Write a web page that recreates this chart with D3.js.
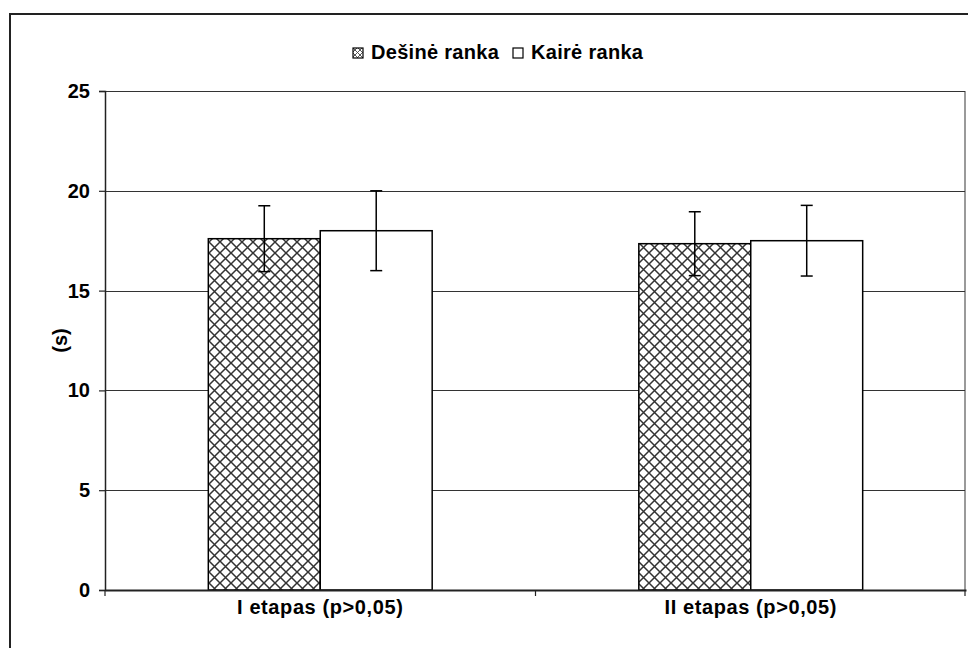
<!DOCTYPE html>
<html>
<head>
<meta charset="utf-8">
<script src="https://cdn.jsdelivr.net/npm/d3@7"></script>
<style>
  body { margin: 0; background: #fff; }
  svg { display: block; font-family: "Liberation Sans", Arial, sans-serif; }
  text { font-weight: bold; fill: #000; }
</style>
</head>
<body>
<svg id="chart" width="968" height="648"></svg>
<script>
const categories = ["I etapas (p>0,05)", "II etapas (p>0,05)"];
const series = ["Dešinė ranka", "Kairė ranka"];
const dextraValues = [17.6, 17.35];
const dextraErrors = [1.65, 1.6];
const sinistraValues = [18.0, 17.5];
const sinistraErrors = [2.0, 1.77];
const yTicks = [0, 5, 10, 15, 20, 25];
const yLabel = "(s)";

(function () {
const svg = d3.select("#chart");
const defs = svg.append("defs");
const P = 11;
const pat = defs.append("pattern")
  .attr("id", "hatch").attr("patternUnits", "userSpaceOnUse")
  .attr("width", P).attr("height", P);
pat.append("rect").attr("width", P).attr("height", P).attr("fill", "#fff");
pat.append("path").attr("d", `M0,0L${P},${P}M${P},0L0,${P}M-1,${P-1}L1,${P+1}M${P-1},-1L${P+1},1`)
  .attr("stroke", "#333").attr("stroke-width", 1.5).attr("fill", "none");

const lsmall = defs.append("pattern")
  .attr("id", "hatchSmall").attr("patternUnits", "userSpaceOnUse")
  .attr("width", 5).attr("height", 5);
lsmall.append("rect").attr("width", 5).attr("height", 5).attr("fill", "#fff");
lsmall.append("path").attr("d", "M0,0L5,5M5,0L0,5")
  .attr("stroke", "#444").attr("stroke-width", 0.9);

// outer frame
svg.append("rect").attr("x", 10).attr("y", 14).attr("width", 1000).attr("height", 700)
  .attr("fill", "none").attr("stroke", "#222").attr("stroke-width", 2);

const pLeft = 105, pRight = 966, pTop = 91, pBottom = 590;
const y = d3.scaleLinear().domain([0, 25]).range([pBottom, pTop]);
const x0 = d3.scaleBand().domain(categories).range([pLeft, pRight]).padding(0);
const bw = x0.bandwidth();
const gw = bw * 0.52;
const x1 = d3.scaleBand().domain(series).range([(bw - gw) / 2, (bw + gw) / 2]).padding(0);

// plot area right border
svg.append("line").attr("x1", pRight - 1).attr("x2", pRight - 1).attr("y1", pTop).attr("y2", pBottom)
  .attr("stroke", "#9a9a9a").attr("stroke-width", 2);

// gridlines
svg.append("g").selectAll("line").data(yTicks.filter(t => t > 0)).join("line")
  .attr("x1", pLeft).attr("x2", pRight - 1)
  .attr("y1", d => Math.round(y(d)) + 0.5).attr("y2", d => Math.round(y(d)) + 0.5)
  .attr("stroke", "#333").attr("stroke-width", 1.2);

// bars
const rows = categories.map((c, i) => [
  { cat: c, s: series[0], v: dextraValues[i], e: dextraErrors[i], fill: "url(#hatch)" },
  { cat: c, s: series[1], v: sinistraValues[i], e: sinistraErrors[i], fill: "#fff" }
]).flat();

svg.append("g").selectAll("rect").data(rows).join("rect")
  .attr("x", d => x0(d.cat) + x1(d.s))
  .attr("y", d => y(d.v))
  .attr("width", x1.bandwidth())
  .attr("height", d => y(0) - y(d.v))
  .attr("fill", d => d.fill)
  .attr("stroke", "#000").attr("stroke-width", 1.5);

// error bars
const eg = svg.append("g").attr("stroke", "#000").attr("stroke-width", 1.5);
rows.forEach(d => {
  const cx = x0(d.cat) + x1(d.s) + x1.bandwidth() / 2;
  eg.append("line").attr("x1", cx).attr("x2", cx).attr("y1", y(d.v + d.e)).attr("y2", y(d.v - d.e));
  eg.append("line").attr("x1", cx - 6).attr("x2", cx + 6).attr("y1", y(d.v + d.e)).attr("y2", y(d.v + d.e));
  eg.append("line").attr("x1", cx - 6).attr("x2", cx + 6).attr("y1", y(d.v - d.e)).attr("y2", y(d.v - d.e));
});

const FS = 20;
// y axis
const yAxis = d3.axisLeft(y).tickValues(yTicks).tickSize(6).tickPadding(9);
const gy = svg.append("g").attr("transform", `translate(${pLeft},0)`).call(yAxis);
gy.select(".domain").attr("stroke", "#222").attr("stroke-width", 1.5);
gy.selectAll(".tick line").attr("stroke", "#222").attr("stroke-width", 1.2);
gy.selectAll(".tick text").attr("font-size", FS).attr("font-weight", "bold")
  .attr("font-family", "Liberation Sans, Arial, sans-serif").attr("fill", "#000");

// x axis
const xAxis = d3.axisBottom(x0).tickSize(0).tickPadding(10);
const gx = svg.append("g").attr("transform", `translate(0,${pBottom})`).call(xAxis);
gx.select(".domain").attr("stroke", "#222").attr("stroke-width", 1.8);
gx.selectAll(".tick text").attr("font-size", FS).attr("font-weight", "bold")
  .attr("font-family", "Liberation Sans, Arial, sans-serif").attr("fill", "#000")
  .style("letter-spacing", "0.6px");
svg.append("g").selectAll("line").data([pLeft, pLeft + bw, pRight - 1]).join("line")
  .attr("x1", d => d).attr("x2", d => d).attr("y1", pBottom).attr("y2", pBottom + 6)
  .attr("stroke", "#222").attr("stroke-width", 1.2);

// y label
svg.append("text").attr("transform", `translate(67,${(pTop + pBottom) / 2}) rotate(-90)`)
  .attr("text-anchor", "middle").attr("font-size", FS)
  .text(yLabel);

// legend
const lg = svg.append("g");
const legendItems = [
  { label: series[0], fill: "url(#hatchSmall)", x: 353 },
  { label: series[1], fill: "#fff", x: 513 }
];
legendItems.forEach(it => {
  lg.append("rect").attr("x", it.x).attr("y", 48).attr("width", 10).attr("height", 10)
    .attr("fill", it.fill).attr("stroke", "#000").attr("stroke-width", 1.2);
  lg.append("text").attr("x", it.x + 18).attr("y", 59).attr("font-size", FS)
    .style("letter-spacing", "0.3px").text(it.label);
});
})();
</script>
</body>
</html>
